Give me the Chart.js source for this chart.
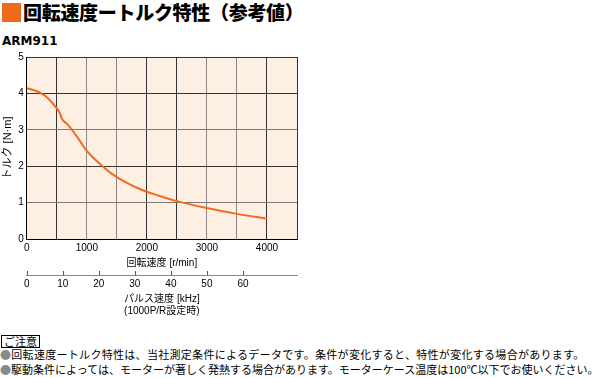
<!DOCTYPE html>
<html lang="ja">
<head>
<meta charset="UTF-8">
<title>回転速度ートルク特性</title>
<script src="https://cdn.jsdelivr.net/npm/chart.js"></script>
<style>
    body {
        margin: 0;
        width: 602px;
        height: 378px;
        background: #fff;
        position: relative;
        overflow: hidden;
        font-family: "Noto Sans CJK JP", sans-serif;
        color: #000;
    }
    .abs { position: absolute; white-space: nowrap; }
    #mark { left: 2px; top: 3px; width: 19px; height: 19px; background: #ef6b1b; }
    #title { left: 23px; top: 2px; font-size: 19px; line-height: 20px; font-weight: 900; letter-spacing: -0.3px; }
    #model { left: 2px; top: 34px; font-family: "DejaVu Sans", sans-serif; font-size: 12px; font-weight: bold; }
    #chartBox { left: 0; top: 48px; width: 310px; height: 270px; }
    #caution { left: 1px; top: 335px; font-size: 11px; line-height: 11px; border: 1px solid #000; padding: 0 2px; }
    .note { left: 0; font-size: 11px; line-height: 13px; }
    .note b { color: #8a8a8a; font-weight: normal; }
</style>
</head>
<body>
<div id="mark" class="abs"></div>
<div id="title" class="abs">回転速度ートルク特性（参考値）</div>
<div id="model" class="abs">ARM911</div>
<div id="chartBox" class="abs"><canvas id="torqueChart"></canvas></div>
<div id="caution" class="abs">ご注意</div>
<div class="abs note" style="top:348px; letter-spacing:0.3px;"><b>●</b>回転速度ートルク特性は、当社測定条件によるデータです。条件が変化すると、特性が変化する場合があります。</div>
<div class="abs note" style="top:363px;"><b>●</b>駆動条件によっては、モーターが著しく発熱する場合があります。モーターケース温度は100℃以下でお使いください。</div>

<script>
    // 回転速度 [r/min] とトルク [N·m]
    const speedRpm = [0, 150, 300, 490, 545, 590, 680, 850, 1000, 1290, 1500, 1900, 2200, 2500, 3000, 3500, 4000];
    const torqueNm = [4.14, 4.07, 3.94, 3.61, 3.48, 3.29, 3.15, 2.78, 2.42, 1.96, 1.70, 1.36, 1.19, 1.04, 0.85, 0.69, 0.56];

    const speedMax = 4500;
    const speedLabels = [0, 1000, 2000, 3000, 4000];
    const pulseMax = 75;          // 4500 r/min at 1000P/R
    const pulseLabels = [0, 10, 20, 30, 40, 50, 60];
    const torqueMax = 5;

    const tickFont = { family: "'Liberation Sans', 'Noto Sans CJK JP', sans-serif", size: 10 };

    // プロット領域の背景
    const plotBg = {
        id: 'plotBg',
        beforeDraw(chart) {
            const a = chart.chartArea;
            const c = chart.ctx;
            c.save();
            c.fillStyle = '#fdf0e3';
            c.fillRect(a.left, a.top, a.right - a.left, a.bottom - a.top);
            c.restore();
        }
    };

    // パルス速度軸の目盛り（上向き）
    const pulseTicks = {
        id: 'pulseTicks',
        afterDraw(chart) {
            const s = chart.scales.x2;
            const c = chart.ctx;
            c.save();
            c.strokeStyle = '#555';
            c.lineWidth = 1;
            c.beginPath();
            pulseLabels.forEach(v => {
                const px = Math.round(s.getPixelForValue(v)) + 0.5;
                c.moveTo(px, s.top);
                c.lineTo(px, s.top - 4);
            });
            c.stroke();
            c.restore();
        }
    };

    new Chart(document.getElementById('torqueChart'), {
        type: 'line',
        data: {
            datasets: [{
                data: speedRpm.map((x, i) => ({ x: x, y: torqueNm[i] })),
                borderColor: '#f26a1e',
                borderWidth: 2,
                pointRadius: 0,
                cubicInterpolationMode: 'monotone',
                xAxisID: 'x',
                yAxisID: 'y'
            }]
        },
        options: {
            responsive: true,
            maintainAspectRatio: false,
            animation: false,
            layout: { padding: { top: 9, right: 13, bottom: 1, left: 0 } },
            plugins: { legend: { display: false }, tooltip: { enabled: false } },
            scales: {
                x: {
                    type: 'linear',
                    position: 'bottom',
                    min: 0, max: speedMax,
                    weight: 0,
                    grid: {
                        drawTicks: false,
                        color: ctx => [1000, 1500, 3000, 3500].includes(ctx.tick && ctx.tick.value) ? '#8c8782' : '#333'
                    },
                    border: { color: '#000' },
                    ticks: {
                        stepSize: 500,
                        autoSkip: false,
                        maxRotation: 0,
                        padding: 3,
                        color: '#000',
                        font: tickFont,
                        callback: v => speedLabels.includes(v) ? String(v) : ''
                    },
                    title: {
                        display: true,
                        text: '回転速度 [r/min]',
                        color: '#000',
                        font: tickFont,
                        padding: { top: 0, bottom: 6 }
                    }
                },
                x2: {
                    type: 'linear',
                    position: 'bottom',
                    min: 0, max: pulseMax,
                    weight: 1,
                    grid: { display: false, drawTicks: false },
                    border: { display: true, color: '#888' },
                    ticks: {
                        stepSize: 10,
                        autoSkip: false,
                        maxRotation: 0,
                        padding: 4,
                        color: '#000',
                        font: Object.assign({ lineHeight: 1 }, tickFont),
                        callback: v => pulseLabels.includes(v) ? String(v) : ''
                    },
                    title: {
                        display: true,
                        text: ['パルス速度 [kHz]', '(1000P/R設定時)'],
                        color: '#000',
                        font: tickFont,
                        padding: 0
                    }
                },
                y: {
                    type: 'linear',
                    min: 0, max: torqueMax,
                    grid: {
                        drawTicks: false,
                        color: ctx => [1, 3].includes(ctx.tick && ctx.tick.value) ? '#7d7873' : '#333'
                    },
                    border: { color: '#000' },
                    ticks: {
                        stepSize: 1,
                        padding: 3,
                        color: '#000',
                        font: tickFont
                    },
                    title: {
                        display: true,
                        text: 'トルク [N·m]',
                        color: '#000',
                        font: Object.assign({}, tickFont, { size: 11 }),
                        padding: { top: 1, bottom: 1 }
                    }
                }
            }
        },
        plugins: [plotBg, pulseTicks]
    });
</script>
</body>
</html>
